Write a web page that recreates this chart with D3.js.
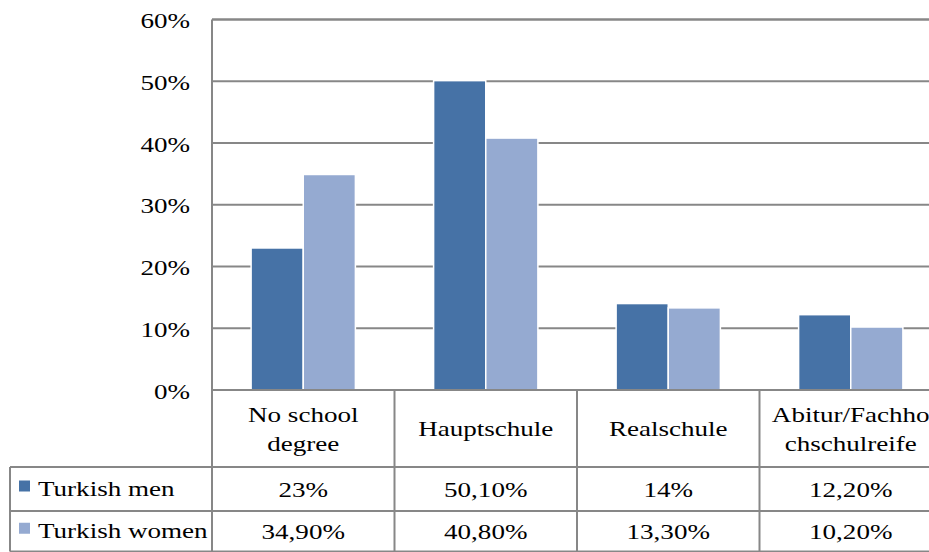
<!DOCTYPE html>
<html>
<head>
<meta charset="utf-8">
<script src="https://cdn.jsdelivr.net/npm/d3@7"></script>
<style>
  html, body { margin: 0; padding: 0; background: #fff; }
  svg { display: block; }
</style>
</head>
<body>
<svg id="chart" width="929" height="552"></svg>
<script>
// Educational attainment by school leaving certificate
const categories = ["No school degree", "Hauptschule", "Realschule", "Abitur/Fachhochschulreife"];
const categoryLines = [["No school", "degree"], ["Hauptschule"], ["Realschule"], ["Abitur/Fachho", "chschulreife"]];
const seriesNames = ["Turkish men", "Turkish women"];
const menValues = [23, 50.1, 14, 12.2];
const womenValues = [34.9, 40.8, 13.3, 10.2];
const yTicks = [0, 10, 20, 30, 40, 50, 60];

const seriesValues = [menValues, womenValues];
const colors = ["#4672a6", "#95aad1"];
const gridColor = "#878787";

const FONT = 22, SX = 1.23;
const FAMILY = "'Liberation Serif', 'Times New Roman', Times, serif";

const svg = d3.select("#chart");

// plot geometry
const plotLeft = 212, band = 182.5;
const plotTop = 19.5, plotBottom = 390;
const plotRight = plotLeft + band * categories.length;

const x0 = d3.scaleBand().domain(categories).range([plotLeft, plotRight]).padding(0);
const barW = band / 3.5; // 150% gap width
const x1 = d3.scaleBand().domain(seriesNames)
  .range([(band - 2 * barW) / 2, (band + 2 * barW) / 2]).padding(0);
const y = d3.scaleLinear().domain([0, 60]).range([plotBottom, plotTop]);

function label(g, x, yy, str, anchor) {
  return g.append("text")
    .attr("transform", `translate(${x},${yy}) scale(${SX},1)`)
    .attr("text-anchor", anchor || "middle")
    .attr("font-family", FAMILY)
    .attr("font-size", FONT)
    .attr("fill", "#000")
    .text(str);
}

// gridlines
svg.append("g").selectAll("line").data(yTicks.filter(d => d > 0)).join("line")
  .attr("x1", plotLeft).attr("x2", plotRight)
  .attr("y1", d => y(d)).attr("y2", d => y(d))
  .attr("stroke", gridColor).attr("stroke-width", 2);

// bars
const groups = svg.append("g").selectAll("g").data(categories).join("g")
  .attr("transform", d => `translate(${x0(d)},0)`);
groups.selectAll("rect")
  .data((c, i) => seriesNames.map((s, k) => ({ s, k, v: seriesValues[k][i] })))
  .join("rect")
  .attr("x", d => x1(d.s))
  .attr("width", x1.bandwidth())
  .attr("y", d => y(d.v))
  .attr("height", d => y(0) - y(d.v))
  .attr("fill", d => colors[d.k])
  .attr("stroke", "#fff").attr("stroke-width", 1.5);

// y axis tick labels
const yl = svg.append("g");
yTicks.forEach(t => label(yl, 190, y(t) + 8.5, t + "%", "end"));

// data table
const tbl = svg.append("g");
const rowTop = plotBottom, rowHead = 467, row1 = 511, row2 = 551.5, legendLeft = 10;
const rule = (xa, ya, xb, yb) => tbl.append("line")
  .attr("x1", xa).attr("y1", ya).attr("x2", xb).attr("y2", yb)
  .attr("stroke", gridColor).attr("stroke-width", 2);

// left axis / table column separators
rule(plotLeft, plotTop, plotLeft, row2);
categories.forEach((c, i) => { if (i > 0) rule(x0(c), rowTop, x0(c), row2); });
rule(plotRight, plotTop, plotRight, row2);
// horizontal rules
rule(plotLeft, plotTop, plotRight, plotTop);
rule(plotLeft, rowTop, plotRight, rowTop);
rule(legendLeft, rowHead, plotRight, rowHead);
rule(legendLeft, row1, plotRight, row1);
rule(legendLeft, row2, plotRight, row2);
rule(legendLeft, rowHead, legendLeft, row2);

// category header
categories.forEach((c, i) => {
  const cx = x0(c) + band / 2;
  const lines = categoryLines[i];
  const mid = (rowTop + rowHead) / 2 + 7.5;
  lines.forEach((t, j) => {
    const yy = mid + (j - (lines.length - 1) / 2) * 29;
    label(tbl, cx, yy, t);
  });
});

// value formatting: integers plain, others with two decimals and a decimal comma
const fmt = v => Number.isInteger(v) ? v + "%" : d3.format(".2f")(v).replace(".", ",") + "%";

const rows = [[rowHead, row1], [row1, row2]];
seriesNames.forEach((s, k) => {
  const [ra, rb] = rows[k];
  const cy = (ra + rb) / 2;
  tbl.append("rect")
    .attr("x", 19).attr("y", cy - 8.5).attr("width", 11).attr("height", 11)
    .attr("fill", colors[k]);
  label(tbl, 38, cy + 7, s, "start");
  categories.forEach((c, i) => {
    label(tbl, x0(c) + band / 2, cy + 7.5, fmt(seriesValues[k][i]));
  });
});
</script>
</body>
</html>
